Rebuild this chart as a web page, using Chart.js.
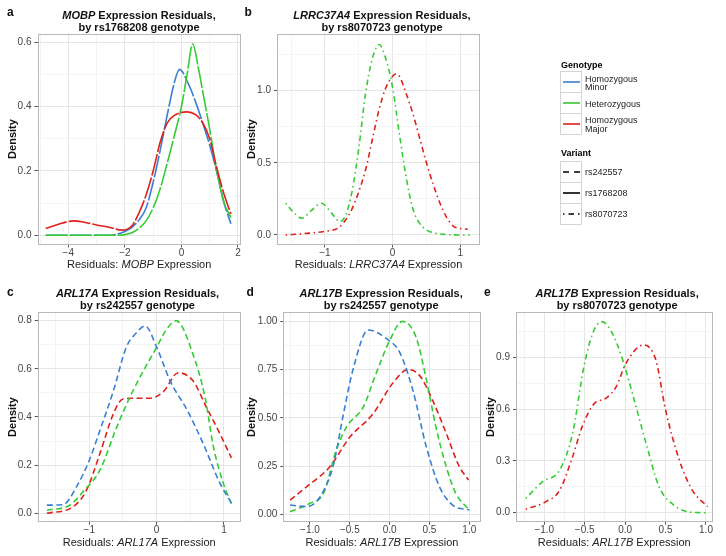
<!DOCTYPE html>
<html><head><meta charset="utf-8">
<script src="https://cdn.jsdelivr.net/npm/chart.js@4"></script>
<style>
html,body{margin:0;padding:0;background:#fff;}
#wrap{position:relative;width:726px;height:556px;overflow:hidden;font-family:"Liberation Sans",Arial,sans-serif;color:#111;}
canvas{position:absolute;left:0;top:0;}
.t{position:absolute;width:300px;font-size:11px;font-weight:bold;line-height:12px;text-align:center;white-space:nowrap;}
.xt{position:absolute;width:300px;font-size:11px;line-height:12px;text-align:center;white-space:nowrap;color:#222;}
.yt{position:absolute;font-size:11px;font-weight:bold;line-height:12px;white-space:nowrap;transform:translate(-50%,-50%) rotate(-90deg);}
.lt{position:absolute;font-size:12px;font-weight:bold;line-height:12px;}
</style></head>
<body>
<div id="wrap">
<canvas id="ca" width="726" height="556"></canvas>
<canvas id="cb" width="726" height="556"></canvas>
<canvas id="cc" width="726" height="556"></canvas>
<canvas id="cd" width="726" height="556"></canvas>
<canvas id="ce" width="726" height="556"></canvas>

<div class="lt" style="left:7px;top:6px">a</div>
<div class="lt" style="left:244.5px;top:6px">b</div>
<div class="lt" style="left:7px;top:286px">c</div>
<div class="lt" style="left:246.5px;top:286px">d</div>
<div class="lt" style="left:484px;top:286px">e</div>

<div class="t" style="left:-11px;top:8.7px"><i>MOBP</i> Expression Residuals,<br>by rs1768208 genotype</div>
<div class="t" style="left:232px;top:8.7px"><i>LRRC37A4</i> Expression Residuals,<br>by rs8070723 genotype</div>
<div class="t" style="left:-12.5px;top:286.5px"><i>ARL17A</i> Expression Residuals,<br>by rs242557 genotype</div>
<div class="t" style="left:231.2px;top:286.5px"><i>ARL17B</i> Expression Residuals,<br>by rs242557 genotype</div>
<div class="t" style="left:467.2px;top:286.5px"><i>ARL17B</i> Expression Residuals,<br>by rs8070723 genotype</div>

<div class="xt" style="left:-10.8px;top:258.3px">Residuals: <i>MOBP</i> Expression</div>
<div class="xt" style="left:228.5px;top:258.3px">Residuals: <i>LRRC37A4</i> Expression</div>
<div class="xt" style="left:-10.8px;top:536.3px">Residuals: <i>ARL17A</i> Expression</div>
<div class="xt" style="left:232px;top:536.3px">Residuals: <i>ARL17B</i> Expression</div>
<div class="xt" style="left:464.3px;top:536.3px">Residuals: <i>ARL17B</i> Expression</div>

<div class="yt" style="left:12px;top:139px">Density</div>
<div class="yt" style="left:250.5px;top:139px">Density</div>
<div class="yt" style="left:11.5px;top:417px">Density</div>
<div class="yt" style="left:250.5px;top:417px">Density</div>
<div class="yt" style="left:490px;top:417px">Density</div>

<svg style="position:absolute;left:0;top:0" width="726" height="556">
<g font-family="Liberation Sans, Arial, sans-serif" font-size="9" fill="#222">
<text x="561" y="67.5" font-weight="bold" fill="#000">Genotype</text>
<rect x="560.5" y="71.5" width="21" height="21" fill="#fff" stroke="#d4d4d4"/>
<rect x="560.5" y="92.5" width="21" height="21" fill="#fff" stroke="#d4d4d4"/>
<rect x="560.5" y="113.5" width="21" height="21" fill="#fff" stroke="#d4d4d4"/>
<line x1="563" y1="82" x2="580" y2="82" stroke="#3b7fd4" stroke-width="1.6"/>
<line x1="563" y1="103" x2="580" y2="103" stroke="#33cc33" stroke-width="1.6"/>
<line x1="563" y1="124" x2="580" y2="124" stroke="#e0201b" stroke-width="1.6"/>
<text x="585" y="81.5">Homozygous</text>
<text x="585" y="90">Minor</text>
<text x="585" y="106.5">Heterozygous</text>
<text x="585" y="122.5">Homozygous</text>
<text x="585" y="131.5">Major</text>
<text x="561" y="156" font-weight="bold" fill="#000">Variant</text>
<rect x="560.5" y="161.5" width="21" height="21" fill="#fff" stroke="#d4d4d4"/>
<rect x="560.5" y="182.5" width="21" height="21" fill="#fff" stroke="#d4d4d4"/>
<rect x="560.5" y="203.5" width="21" height="21" fill="#fff" stroke="#d4d4d4"/>
<line x1="563" y1="172" x2="580" y2="172" stroke="#000" stroke-width="1.6" stroke-dasharray="6,5"/>
<line x1="563" y1="193" x2="580" y2="193" stroke="#000" stroke-width="1.6"/>
<line x1="563" y1="214" x2="580" y2="214" stroke="#000" stroke-width="1.6" stroke-dasharray="1.5,4,5.5,4"/>
<text x="585" y="175.3">rs242557</text>
<text x="585" y="196.3">rs1768208</text>
<text x="585" y="217.3">rs8070723</text>
</g>
</svg>
</div>

<script>
// ---------- Panel a: MOBP by rs1768208 ----------
const aMinorX = [-4.8,-2.6,-2.0,-1.75,-1.5,-1.25,-1.0,-0.75,-0.5,-0.25,-0.07,0.25,0.5,0.75,1.0,1.25,1.5,1.75];
const aMinorY = [0,0,0.012,0.025,0.048,0.085,0.165,0.265,0.375,0.475,0.516,0.47,0.415,0.35,0.28,0.197,0.103,0.036];
const aHetX = [-4.8,-2.4,-2.0,-1.75,-1.5,-1.25,-1.0,-0.75,-0.5,-0.25,0,0.2,0.4,0.6,0.8,1.0,1.25,1.5,1.75];
const aHetY = [0,0,0.002,0.008,0.022,0.045,0.085,0.145,0.225,0.31,0.40,0.50,0.595,0.52,0.425,0.33,0.2,0.104,0.055];
const aMajorX = [-4.8,-4.4,-3.8,-3.4,-3.0,-2.6,-2.1,-1.75,-1.5,-1.25,-1.0,-0.75,-0.5,-0.25,0.2,0.5,0.75,1.0,1.25,1.5,1.75];
const aMajorY = [0.021,0.033,0.045,0.04,0.032,0.026,0.016,0.03,0.07,0.125,0.2,0.29,0.35,0.373,0.384,0.375,0.35,0.30,0.21,0.13,0.066];
const aXTicks = [-4,-2,0,2], aXMinor = [-5,-3,-1,1];
const aYTicks = [0,0.2,0.4,0.6], aYMinor = [0.1,0.3,0.5];

// ---------- Panel b: LRRC37A4 by rs8070723 ----------
const bHetX = [-1.58,-1.45,-1.34,-1.2,-1.05,-0.9,-0.78,-0.7,-0.6,-0.5,-0.4,-0.3,-0.2,-0.1,0.0,0.1,0.2,0.3,0.4,0.5,0.6,0.8,1.0,1.14];
const bHetY = [0.22,0.15,0.116,0.17,0.22,0.15,0.092,0.13,0.3,0.6,0.98,1.22,1.32,1.22,1.02,0.7,0.4,0.18,0.08,0.035,0.015,0.003,0,0];
const bMajorX = [-1.58,-1.3,-1.0,-0.8,-0.7,-0.6,-0.5,-0.4,-0.3,-0.2,-0.1,0.0,0.05,0.1,0.2,0.3,0.4,0.5,0.6,0.7,0.8,0.9,1.0,1.11];
const bMajorY = [0,0.01,0.025,0.05,0.1,0.18,0.3,0.45,0.66,0.87,1.02,1.1,1.115,1.1,0.98,0.84,0.67,0.5,0.35,0.22,0.12,0.06,0.045,0.04];
const bXTicks = [-1,0,1], bXMinor = [-1.5,-0.5,0.5];
const bYTicks = [0,0.5,1.0], bYMinor = [0.25,0.75,1.25];

// ---------- Panel c: ARL17A by rs242557 ----------
const cMinorX = [-1.63,-1.39,-1.19,-1.0,-0.84,-0.64,-0.45,-0.3,-0.17,0.0,0.2,0.45,0.69,0.94,1.11];
const cMinorY = [0.034,0.036,0.11,0.22,0.346,0.51,0.69,0.75,0.778,0.69,0.55,0.43,0.29,0.125,0.042];
const cHetX = [-1.63,-1.29,-1.07,-0.84,-0.59,-0.35,0.0,0.15,0.29,0.54,0.72,0.84,0.99,1.11];
const cHetY = [0.013,0.034,0.097,0.18,0.36,0.51,0.69,0.765,0.80,0.66,0.48,0.28,0.125,0.04];
const cMajorX = [-1.63,-1.24,-1.04,-0.84,-0.64,-0.5,-0.3,-0.1,0.1,0.32,0.54,0.74,0.94,1.11];
const cMajorY = [0.0,0.027,0.097,0.25,0.415,0.475,0.478,0.478,0.505,0.584,0.55,0.44,0.33,0.23];
const cXTicks = [-1,0,1], cXMinor = [-1.5,-0.5,0.5];
const cYTicks = [0,0.2,0.4,0.6,0.8], cYMinor = [0.1,0.3,0.5,0.7];

// ---------- Panel d: ARL17B by rs242557 ----------
const dMinorX = [-1.25,-1.04,-0.875,-0.71,-0.58,-0.46,-0.27,-0.04,0.125,0.29,0.46,0.625,0.79,1.0];
const dMinorY = [0.048,0.04,0.09,0.25,0.52,0.75,0.955,0.91,0.84,0.645,0.35,0.143,0.048,0.022];
const dHetX = [-1.25,-1.0,-0.83,-0.67,-0.54,-0.33,-0.17,0.0,0.16,0.33,0.46,0.58,0.71,0.83,1.0];
const dHetY = [0.013,0.057,0.109,0.333,0.454,0.557,0.73,0.90,1.0,0.92,0.70,0.454,0.247,0.109,0.022];
const dMajorX = [-1.25,-1.04,-0.75,-0.5,-0.21,0.04,0.23,0.375,0.54,0.71,0.875,0.99];
const dMajorY = [0.074,0.143,0.247,0.40,0.52,0.68,0.75,0.72,0.59,0.42,0.247,0.178];
const dXTicks = [-1,-0.5,0,0.5,1], dXMinor = [-1.25,-0.75,-0.25,0.25,0.75];
const dYTicks = [0,0.25,0.5,0.75,1.0], dYMinor = [0.125,0.375,0.625,0.875];

// ---------- Panel e: ARL17B by rs8070723 ----------
const eHetX = [-1.23,-1.02,-0.81,-0.65,-0.51,-0.40,-0.29,-0.16,-0.03,0.09,0.26,0.42,0.63,0.83,1.0];
const eHetY = [0.083,0.18,0.247,0.46,0.845,1.04,1.106,1.04,0.884,0.69,0.40,0.15,0.035,0.002,0.0];
const eMajorX = [-1.23,-0.98,-0.81,-0.65,-0.53,-0.38,-0.24,-0.11,0.01,0.23,0.38,0.5,0.67,0.83,1.02];
const eMajorY = [0.02,0.064,0.13,0.324,0.50,0.633,0.662,0.73,0.865,0.971,0.884,0.595,0.305,0.131,0.035];
const eXTicks = [-1,-0.5,0,0.5,1], eXMinor = [-1.25,-0.75,-0.25,0.25,0.75];
const eYTicks = [0,0.3,0.6,0.9], eYMinor = [0.15,0.45,0.75,1.05];

// ---------- styles ----------
const BLUE = '#3b7fd4', GREEN = '#33cc33', RED = '#e0201b';
const SOLID = [22,2], DASHED = [6,3.5], DOTDASH = [1.5,3.5,5.5,3.5];
const FONT = '"Liberation Sans", Arial, sans-serif';

const boxPlugin = {
  id: 'panelBox',
  afterDraw(chart) {
    const a = chart.chartArea, c = chart.ctx;
    c.save();
    c.strokeStyle = '#b8b8b8';
    c.lineWidth = 1;
    c.strokeRect(Math.round(a.left) + 0.5, Math.round(a.top) + 0.5,
                 Math.round(a.right) - Math.round(a.left) - 1, Math.round(a.bottom) - Math.round(a.top) - 1);
    c.restore();
  }
};

function isIn(list, v) { return list.some(t => Math.abs(t - v) < 1e-9); }
function fmt(v, d) { return (v < -1e-9 ? '\u2212' : '') + Math.abs(v).toFixed(d); }

function axis(major, minor, dec, min, max, isX, size) {
  return {
    type: 'linear', position: isX ? 'bottom' : 'left', min: min, max: max,
    afterBuildTicks: sc => { sc.ticks = major.concat(minor).sort((p, q) => p - q).map(v => ({ value: v })); },
    afterFit: sc => { if (isX) sc.height = size; else sc.width = size; },
    ticks: {
      autoSkip: false, maxRotation: 0, minRotation: 0, padding: isX ? 0 : 3,
      color: '#444', font: { family: FONT, size: 10 },
      callback: v => isIn(major, v) ? fmt(v, dec) : ''
    },
    grid: {
      color: c => (c.tick && isIn(major, c.tick.value)) ? '#e6e6e6' : '#f4f4f4',
      tickColor: c => (c.tick && isIn(major, c.tick.value)) ? '#555' : 'rgba(0,0,0,0)',
      tickLength: 3, drawTicks: true, lineWidth: 1
    },
    border: { display: false }
  };
}

function build(p) {
  const YW = 30, XH = 20;
  new Chart(document.getElementById(p.id), {
    type: 'scatter',
    data: {
      datasets: p.series.map(s => ({
        data: s.xs.map((x, i) => ({ x: x, y: s.ys[i] })),
        showLine: true, borderColor: s.color, borderWidth: 1.6, borderDash: s.dash,
        pointRadius: 0, pointHoverRadius: 0, cubicInterpolationMode: 'monotone', fill: false
      }))
    },
    options: {
      responsive: false, animation: false, devicePixelRatio: 1, events: [],
      layout: { padding: { left: p.L - YW, right: 726 - p.R, top: p.T, bottom: 556 - p.B - XH } },
      plugins: { legend: { display: false }, tooltip: { enabled: false }, title: { display: false } },
      scales: {
        x: axis(p.xMajor, p.xMinor, p.xDec, p.xmin, p.xmax, true, XH),
        y: axis(p.yMajor, p.yMinor, p.yDec, p.ymin, p.ymax, false, YW)
      }
    },
    plugins: [boxPlugin]
  });
}

build({ id: 'ca', L: 37.5, R: 241, T: 33.7, B: 244.5, xmin: -5.09, xmax: 2.107, ymin: -0.0286, ymax: 0.627,
  xMajor: aXTicks, xMinor: aXMinor, xDec: 0, yMajor: aYTicks, yMinor: aYMinor, yDec: 1,
  series: [
    { xs: aMajorX, ys: aMajorY, color: RED, dash: SOLID },
    { xs: aHetX, ys: aHetY, color: GREEN, dash: SOLID },
    { xs: aMinorX, ys: aMinorY, color: BLUE, dash: SOLID }
  ] });

build({ id: 'cb', L: 277, R: 480, T: 33.5, B: 244.5, xmin: -1.708, xmax: 1.291, ymin: -0.066, ymax: 1.396,
  xMajor: bXTicks, xMinor: bXMinor, xDec: 0, yMajor: bYTicks, yMinor: bYMinor, yDec: 1,
  series: [
    { xs: bHetX, ys: bHetY, color: GREEN, dash: DOTDASH },
    { xs: bMajorX, ys: bMajorY, color: RED, dash: DOTDASH }
  ] });

build({ id: 'cc', L: 37.7, R: 240.7, T: 312, B: 521.7, xmin: -1.766, xmax: 1.248, ymin: -0.0349, ymax: 0.836,
  xMajor: cXTicks, xMinor: cXMinor, xDec: 0, yMajor: cYTicks, yMinor: cYMinor, yDec: 1,
  series: [
    { xs: cMinorX, ys: cMinorY, color: BLUE, dash: DASHED },
    { xs: cHetX, ys: cHetY, color: GREEN, dash: DASHED },
    { xs: cMajorX, ys: cMajorY, color: RED, dash: DASHED }
  ] });

build({ id: 'cd', L: 283.3, R: 480.7, T: 312, B: 521.7, xmin: -1.335, xmax: 1.143, ymin: -0.0383, ymax: 1.0484,
  xMajor: dXTicks, xMinor: dXMinor, xDec: 1, yMajor: dYTicks, yMinor: dYMinor, yDec: 2,
  series: [
    { xs: dMinorX, ys: dMinorY, color: BLUE, dash: DASHED },
    { xs: dHetX, ys: dHetY, color: GREEN, dash: DASHED },
    { xs: dMajorX, ys: dMajorY, color: RED, dash: DASHED }
  ] });

build({ id: 'ce', L: 516, R: 712.7, T: 312, B: 521.7, xmin: -1.35, xmax: 1.083, ymin: -0.052, ymax: 1.162,
  xMajor: eXTicks, xMinor: eXMinor, xDec: 1, yMajor: eYTicks, yMinor: eYMinor, yDec: 1,
  series: [
    { xs: eHetX, ys: eHetY, color: GREEN, dash: DOTDASH },
    { xs: eMajorX, ys: eMajorY, color: RED, dash: DOTDASH }
  ] });
</script>
</body></html>
